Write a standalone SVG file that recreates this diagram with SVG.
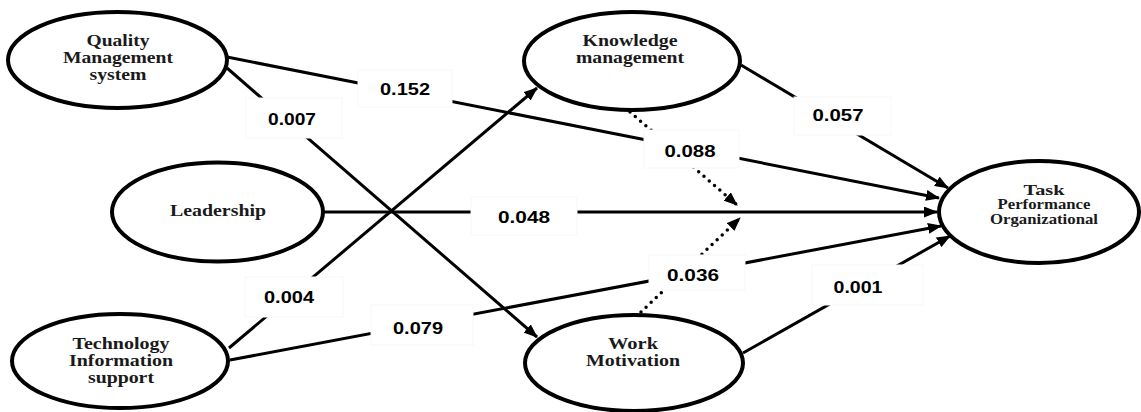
<svg xmlns="http://www.w3.org/2000/svg" width="1141" height="412" viewBox="0 0 1141 412">
<style>
.node ellipse{fill:#fff;stroke:#000;stroke-width:4}
.node text{font-family:"Liberation Serif","Times New Roman",serif;font-weight:bold;font-size:17px;text-anchor:middle;fill:#1a1a1a}
.task text{font-size:15px}
.edge{stroke:#000;stroke-width:3;fill:none;marker-end:url(#arr)}
.dot{stroke:#000;stroke-width:3.5;fill:none;stroke-dasharray:0 7;stroke-linecap:round;marker-end:url(#arr)}
.lbl rect{fill:#fff;stroke:#f7f7f7;stroke-width:1}
.lbl text{font-family:"Liberation Sans",Arial,sans-serif;font-weight:bold;font-size:17px;text-anchor:middle;fill:#000}
</style>
<defs>
<marker id="arr" markerUnits="userSpaceOnUse" markerWidth="15" markerHeight="11" refX="13" refY="5.5" orient="auto"><path d="M0,0 L14,5.5 L0,11 z" fill="#000"/></marker>
</defs>
<rect width="1141" height="412" fill="#fff"/>
<g id="connectors">
<line class="edge" x1="227" y1="57" x2="939" y2="198"/>
<line class="edge" x1="227" y1="68" x2="537" y2="337"/>
<line class="edge" x1="229" y1="348" x2="537" y2="88"/>
<line class="edge" x1="323" y1="212" x2="937" y2="212"/>
<line class="edge" x1="230" y1="360" x2="941" y2="226"/>
<line class="edge" x1="741" y1="65" x2="948" y2="188"/>
<line class="edge" x1="743" y1="353" x2="950" y2="236"/>
<path class="dot" d="M630,112 L737,205"/>
<path class="dot" d="M641,312 L740,218"/>
</g>
<g id="labels">
<g class="lbl"><rect x="358" y="70" width="94" height="37"/><text x="405" y="95" textLength="50" lengthAdjust="spacingAndGlyphs">0.152</text></g>
<g class="lbl"><rect x="246" y="98" width="96" height="40"/><text x="292" y="125" textLength="48" lengthAdjust="spacingAndGlyphs">0.007</text></g>
<g class="lbl"><rect x="794" y="97" width="97" height="38"/><text x="838" y="121" textLength="51" lengthAdjust="spacingAndGlyphs">0.057</text></g>
<g class="lbl"><rect x="644" y="130" width="95" height="38"/><text x="690" y="157" textLength="51" lengthAdjust="spacingAndGlyphs">0.088</text></g>
<g class="lbl"><rect x="471" y="197" width="106" height="38"/><text x="524" y="223" textLength="52" lengthAdjust="spacingAndGlyphs">0.048</text></g>
<g class="lbl"><rect x="245" y="277" width="98" height="40"/><text x="289" y="303" textLength="50" lengthAdjust="spacingAndGlyphs">0.004</text></g>
<g class="lbl"><rect x="371" y="305" width="102" height="40"/><text x="418" y="334" textLength="50" lengthAdjust="spacingAndGlyphs">0.079</text></g>
<g class="lbl"><rect x="649" y="255" width="96" height="35"/><text x="693" y="281" textLength="52" lengthAdjust="spacingAndGlyphs">0.036</text></g>
<g class="lbl"><rect x="812" y="265" width="111" height="40"/><text x="858" y="293" textLength="49" lengthAdjust="spacingAndGlyphs">0.001</text></g>
</g>
<g id="qms" class="node"><ellipse cx="117.5" cy="60" rx="109.5" ry="48"/>
<text x="118" y="46" textLength="63" lengthAdjust="spacingAndGlyphs">Quality</text>
<text x="118" y="63" textLength="110" lengthAdjust="spacingAndGlyphs">Management</text>
<text x="118" y="80" textLength="57" lengthAdjust="spacingAndGlyphs">system</text></g>
<g id="leadership" class="node"><ellipse cx="217.5" cy="212" rx="105.5" ry="49.5"/>
<text x="218" y="216" textLength="96" lengthAdjust="spacingAndGlyphs">Leadership</text></g>
<g id="technology" class="node"><ellipse cx="120" cy="361" rx="108" ry="47"/>
<text x="121" y="349" textLength="97" lengthAdjust="spacingAndGlyphs">Technology</text>
<text x="121" y="366" textLength="104" lengthAdjust="spacingAndGlyphs">Information</text>
<text x="121" y="383" textLength="66" lengthAdjust="spacingAndGlyphs">support</text></g>
<g id="knowledge" class="node"><ellipse cx="632" cy="61" rx="108" ry="49"/>
<text x="630" y="46" textLength="95" lengthAdjust="spacingAndGlyphs">Knowledge</text>
<text x="630" y="63" textLength="108" lengthAdjust="spacingAndGlyphs">management</text></g>
<g id="work" class="node"><ellipse cx="634" cy="363" rx="109" ry="48"/>
<text x="633" y="349" textLength="50" lengthAdjust="spacingAndGlyphs">Work</text>
<text x="633" y="366" textLength="94" lengthAdjust="spacingAndGlyphs">Motivation</text></g>
<g id="task" class="node task"><ellipse cx="1039" cy="212" rx="100" ry="51"/>
<text x="1044" y="195" textLength="41" lengthAdjust="spacingAndGlyphs">Task</text>
<text x="1044" y="209" textLength="93" lengthAdjust="spacingAndGlyphs">Performance</text>
<text x="1044" y="224" textLength="108" lengthAdjust="spacingAndGlyphs">Organizational</text></g>
</svg>
